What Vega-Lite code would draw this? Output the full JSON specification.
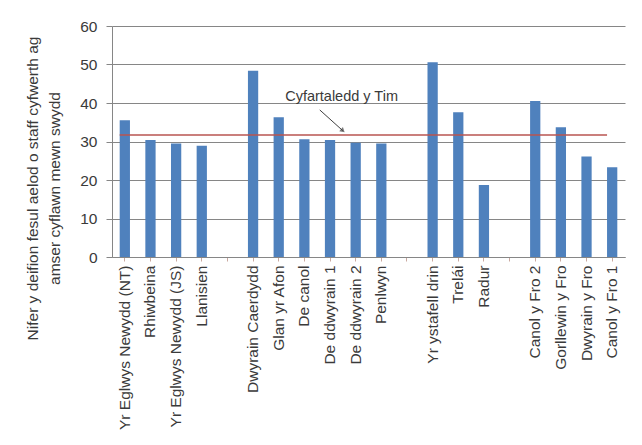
{
  "$schema": "https://vega.github.io/schema/vega-lite/v6.json",
  "autosize": "none",
  "width": 513,
  "height": 231,
  "padding": {"left": 112, "top": 26, "right": 17, "bottom": 188},
  "background": "white",
  "datasets": {
    "bars": [
      {"area": "Yr Eglwys Newydd (NT)", "value": 35.5},
      {"area": "Rhiwbeina", "value": 30.4},
      {"area": "Yr Eglwys Newydd (JS)", "value": 29.5},
      {"area": "Llanisien", "value": 28.9},
      {"area": "Dwyrain Caerdydd", "value": 48.4},
      {"area": "Glan yr Afon", "value": 36.3},
      {"area": "De canol", "value": 30.6},
      {"area": "De ddwyrain 1", "value": 30.4},
      {"area": "De ddwyrain 2", "value": 29.7},
      {"area": "Penlwyn", "value": 29.5},
      {"area": "Yr ystafell drin", "value": 50.6},
      {"area": "Trelái", "value": 37.6},
      {"area": "Radur", "value": 18.7},
      {"area": "Canol y Fro 2", "value": 40.5},
      {"area": "Gorllewin y Fro", "value": 33.7},
      {"area": "Dwyrain y Fro", "value": 26.1},
      {"area": "Canol y Fro 1", "value": 23.3}
    ],
    "avg": [{"x": 0.3, "x2": 19.3, "value": 31.7}],
    "label": [{"x": 8.95, "value": 41.5, "text": "Cyfartaledd y Tim"}],
    "arrow": [{"x": 8.1, "value": 38.2, "x2": 9.0, "value2": 32.8}],
    "arrowhead": [{"x": 9.0, "value": 32.8}]
  },
  "encoding": {
    "y": {
      "field": "value", "type": "quantitative",
      "scale": {"domain": [0, 60], "nice": false},
      "axis": {
        "values": [0, 10, 20, 30, 40, 50, 60],
        "labelOverlap": false,
        "title": ["Nifer y deifion fesul aelod o staff cyfwerth ag", "amser cyflawn mewn swydd"],
        "titleFont": "Liberation Sans",
        "titleFontSize": 15.5,
        "titleFontWeight": "normal",
        "titleColor": "#3a3a3a",
        "titleAngle": -90,
        "titleX": -80,
        "titleY": 162,
        "titleAlign": "center",
        "titleBaseline": "middle",
        "titleLineHeight": 22,
        "labelFont": "Liberation Sans",
        "labelFontSize": 15.5,
        "labelColor": "#3a3a3a",
        "labelPadding": 9,
        "domainColor": "#868686",
        "tickColor": "#868686",
        "tickSize": 6,
        "gridColor": "#868686",
        "gridWidth": 1
      }
    }
  },
  "layer": [
    {
      "data": {"name": "bars"},
      "mark": {"type": "bar", "color": "#4F81BD"},
      "encoding": {
        "x": {
          "field": "area", "type": "nominal", "sort": null,
          "scale": {
            "domain": ["Yr Eglwys Newydd (NT)", "Rhiwbeina", "Yr Eglwys Newydd (JS)", "Llanisien", "gap1",
              "Dwyrain Caerdydd", "Glan yr Afon", "De canol", "De ddwyrain 1", "De ddwyrain 2", "Penlwyn", "gap2",
              "Yr ystafell drin", "Trelái", "Radur", "gap3",
              "Canol y Fro 2", "Gorllewin y Fro", "Dwyrain y Fro", "Canol y Fro 1"],
            "paddingInner": 0.6, "paddingOuter": 0.3
          },
          "axis": {
            "title": null,
            "labelAngle": -90,
            "labelExpr": "indexof(datum.value,'gap')==0 ? '' : datum.value",
            "labelFont": "Liberation Sans",
            "labelFontSize": 15.5,
            "labelColor": "#3a3a3a",
            "labelPadding": 4,
            "labelOverlap": false,
            "labelLimit": 300,
            "domainColor": "#868686",
            "tickColor": "#c9a9a0",
            "tickSize": 4,
            "grid": false
          }
        }
      }
    },
    {
      "data": {"name": "avg"},
      "mark": {"type": "rule", "color": "#B85450", "strokeWidth": 1.5},
      "encoding": {
        "x": {"field": "x", "type": "quantitative", "scale": {"domain": [0, 20], "nice": false, "zero": false}, "axis": null},
        "x2": {"field": "x2"}
      }
    },
    {
      "data": {"name": "label"},
      "mark": {"type": "text", "font": "Liberation Sans", "fontSize": 14.5, "color": "#3a3a3a", "align": "center", "baseline": "middle"},
      "encoding": {
        "x": {"field": "x", "type": "quantitative", "scale": {"domain": [0, 20], "nice": false, "zero": false}, "axis": null},
        "text": {"field": "text"}
      }
    },
    {
      "data": {"name": "arrow"},
      "mark": {"type": "rule", "color": "#404040", "strokeWidth": 1},
      "encoding": {
        "x": {"field": "x", "type": "quantitative", "scale": {"domain": [0, 20], "nice": false, "zero": false}, "axis": null},
        "x2": {"field": "x2"},
        "y2": {"field": "value2"}
      }
    },
    {
      "data": {"name": "arrowhead"},
      "mark": {"type": "point", "shape": "triangle-up", "filled": true, "color": "#404040", "size": 30, "angle": 132},
      "encoding": {
        "x": {"field": "x", "type": "quantitative", "scale": {"domain": [0, 20], "nice": false, "zero": false}, "axis": null}
      }
    }
  ],
  "resolve": {"scale": {"x": "independent"}},
  "config": {"view": {"stroke": null}}
}
